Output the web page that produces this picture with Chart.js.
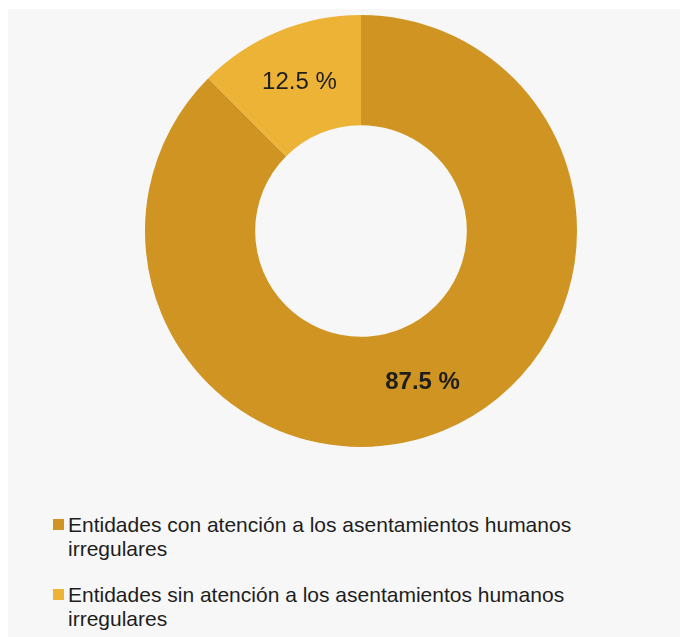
<!DOCTYPE html>
<html>
<head>
<meta charset="utf-8">
<script src="https://cdn.jsdelivr.net/npm/chart.js@4.4.1/dist/chart.umd.min.js"></script>
<style>
    body { margin: 0; background: #fff; width: 680px; height: 637px; overflow: hidden; position: relative; }
    #panel { position: absolute; left: 8px; top: 9px; right: 0; bottom: 0; background: #f7f7f7; }
    #wrap { position: absolute; left: 145px; top: 15px; width: 432px; height: 432px; }
    .item { position: absolute; left: 68px; width: 580px; font-family: "Liberation Sans", Arial, sans-serif;
            font-size: 21px; line-height: 24px; color: #1e1e1e; }
    .item span { position: absolute; left: -15px; top: 6px; width: 11px; height: 11px; }
</style>
</head>
<body>
<div id="panel"></div>
<div id="wrap"><canvas id="dona"></canvas></div>
<div id="legend"></div>
<script>
const categorias = [
    ['Entidades con atención a los asentamientos humanos', 'irregulares'],
    ['Entidades sin atención a los asentamientos humanos', 'irregulares']
];
const porcentajes = [87.5, 12.5];
const colores = ['#cf9422', '#ecb337'];

// etiquetas de porcentaje dentro de cada segmento
const etiquetas = {
    id: 'etiquetas',
    afterDatasetsDraw(chart) {
        const ctx = chart.ctx;
        const meta = chart.getDatasetMeta(0);
        meta.data.forEach((arc, i) => {
            const p = arc.getCenterPoint();
            ctx.save();
            ctx.font = (i === 0 ? 'bold ' : '') + '24px "Liberation Sans", Arial, sans-serif';
            ctx.fillStyle = '#1e1e1e';
            ctx.textAlign = 'center';
            ctx.textBaseline = 'middle';
            ctx.fillText(porcentajes[i].toFixed(1) + ' %', p.x, p.y + (i === 0 ? 3 : 0));
            ctx.restore();
        });
    }
};

new Chart(document.getElementById('dona'), {
    type: 'doughnut',
    data: {
        labels: categorias.map(c => c.join(' ')),
        datasets: [{
            data: porcentajes,
            backgroundColor: colores,
            borderWidth: 0
        }]
    },
    options: {
        responsive: true,
        maintainAspectRatio: false,
        animation: false,
        cutout: '49%',
        plugins: {
            legend: { display: false },
            tooltip: { enabled: false }
        }
    },
    plugins: [etiquetas]
});

// leyenda en html
const tops = [513, 583];
const legend = document.getElementById('legend');
categorias.forEach((c, i) => {
    const div = document.createElement('div');
    div.className = 'item';
    div.style.top = tops[i] + 'px';
    div.innerHTML = '<span style="background:' + colores[i] + '"></span>' + c.join('<br>');
    legend.appendChild(div);
});
</script>
</body>
</html>
